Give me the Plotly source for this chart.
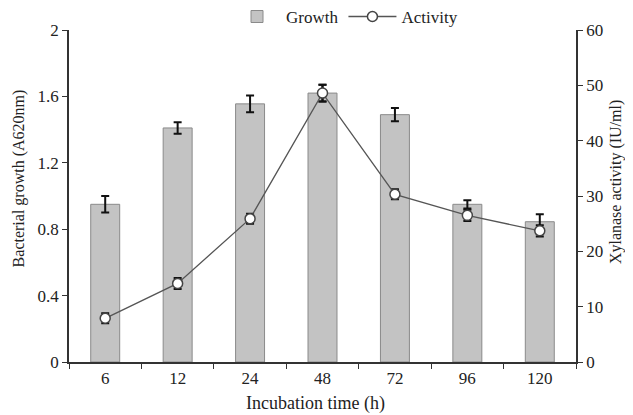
import plotly.graph_objects as go

times = ["6", "12", "24", "48", "72", "96", "120"]
growth = [0.95, 1.41, 1.555, 1.62, 1.49, 0.95, 0.845]
growth_err = [0.05, 0.035, 0.05, 0.05, 0.04, 0.025, 0.045]
activity = [7.9, 14.2, 25.9, 48.6, 30.3, 26.5, 23.7]
activity_err = [0.9, 1.0, 0.9, 1.5, 0.9, 1.0, 1.0]

x_title = "Incubation time (h)"
y_title = "Bacterial growth (A620nm)"
y2_title = "Xylanase activity (IU/ml)"

FONT = "Liberation Serif"
TXT = "#222222"

fig = go.Figure()
fig.add_trace(go.Bar(
    x=times, y=growth, name="Growth", width=0.4,
    marker=dict(color="#c3c3c3", line=dict(color="#8a8a8a", width=1)),
    error_y=dict(type="data", array=growth_err, color="#111111", thickness=2, width=4),
))
fig.add_trace(go.Scatter(
    x=times, y=activity, name="Activity", yaxis="y2", mode="lines+markers",
    line=dict(color="#555555", width=1.3),
    marker=dict(symbol="circle", size=10, color="white", line=dict(color="#444444", width=1.5)),
    error_y=dict(type="data", array=activity_err, color="#111111", thickness=2, width=4),
))

fig.update_layout(
    width=625, height=407,
    margin=dict(l=61, r=57, t=22, b=53, autoexpand=False),
    paper_bgcolor="white", plot_bgcolor="white",
    font=dict(family=FONT, size=13, color=TXT),
    showlegend=True,
    legend=dict(orientation="h", x=0.54, y=0.978, xref="container", yref="container",
                xanchor="center", yanchor="middle",
                font=dict(size=17, family=FONT), bgcolor="rgba(0,0,0,0)",
                itemwidth=48, tracegroupgap=0),
    xaxis=dict(
        type="category", showline=True, linecolor="#333333", linewidth=1.5,
        ticks="outside", tickson="boundaries", ticklen=5, tickcolor="#333333",
        showgrid=False, tickfont=dict(size=17), automargin=False,
    ),
    yaxis=dict(
        range=[0, 2], tickvals=[0, 0.4, 0.8, 1.2, 1.6, 2],
        ticktext=["0", "0.4", "0.8", "1.2", "1.6", "2"],
        showline=True, linecolor="#333333", linewidth=1.5, automargin=False,
        ticks="outside", ticklen=5, tickcolor="#333333", showgrid=False, zeroline=False,
        tickfont=dict(size=17),
    ),
    yaxis2=dict(
        range=[0, 60], tickvals=[0, 10, 20, 30, 40, 50, 60],
        overlaying="y", side="right", automargin=False,
        showline=True, linecolor="#333333", linewidth=1.5,
        ticks="outside", ticklen=5, tickcolor="#333333", showgrid=False, zeroline=False,
        tickfont=dict(size=17),
    ),
    bargap=0.6,
    annotations=[
        dict(text=x_title, xref="paper", yref="paper", x=0.487, y=-0.1235,
             showarrow=False, font=dict(size=18, family=FONT, color=TXT),
             xanchor="center", yanchor="middle"),
        dict(text=y_title, xref="paper", yref="paper", x=-0.098, y=0.554,
             textangle=-90, showarrow=False, font=dict(size=16, family=FONT, color=TXT),
             xanchor="center", yanchor="middle"),
        dict(text=y2_title, xref="paper", yref="paper", x=1.079, y=0.542,
             textangle=-90, showarrow=False, font=dict(size=16, family=FONT, color=TXT),
             xanchor="center", yanchor="middle"),
    ],
)

fig.write_html("out.html")
